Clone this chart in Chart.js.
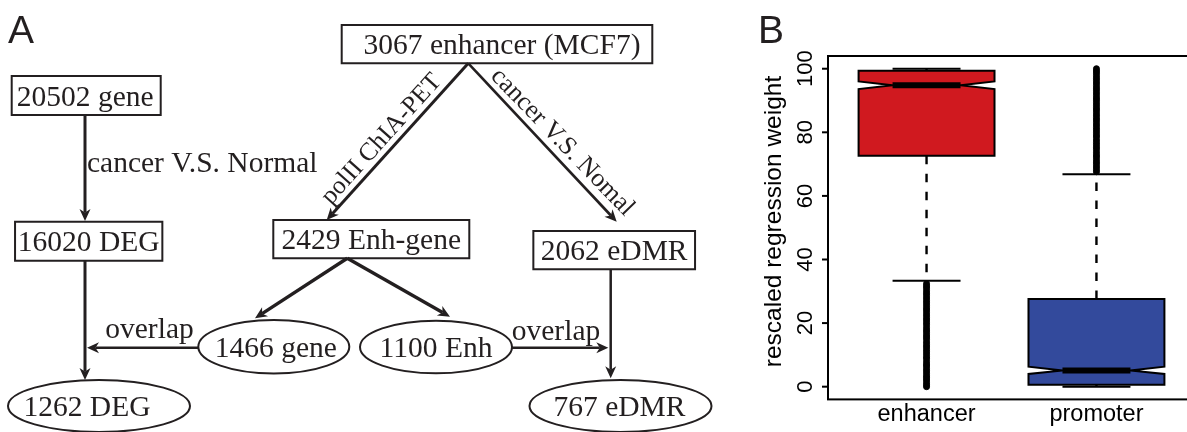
<!DOCTYPE html>
<html>
<head>
<meta charset="utf-8">
<script src="https://cdn.jsdelivr.net/npm/chart.js@4/dist/chart.umd.min.js"></script>
<style>
  html, body { margin: 0; padding: 0; background: #fff; overflow: hidden; }
  #wrap { position: relative; width: 1187px; height: 432px; overflow: hidden; background: #fff; }
  canvas { position: absolute; top: 0; }
  #flow { left: 0; }
  #box { left: 750px; }
</style>
</head>
<body>
<div id="wrap">
  <canvas id="flow" width="750" height="432"></canvas>
  <canvas id="box" width="460" height="432"></canvas>
</div>
<script>
// ---------- Panel A: filtering pipeline ----------
const nodeCounts = [20502, 16020, 1262, 3067, 2429, 2062, 1466, 1100, 767];
const nodeNames  = ['gene', 'DEG', 'DEG', 'enhancer (MCF7)', 'Enh-gene', 'eDMR', 'gene', 'Enh', 'eDMR'];
const edgeLabels = ['cancer V.S. Normal', 'polII ChIA-PET', 'cancer V.S. Nomal', 'overlap', 'overlap'];

// ---------- Panel B: rescaled regression weight ----------
const groups      = ['enhancer', 'promoter'];
const boxQ1       = [72.6, 0.6];
const boxMedian   = [94.8, 5.1];
const boxQ3       = [99.4, 27.6];
const notchLow    = [93.6, 4.0];
const notchHigh   = [96.0, 6.3];
const whiskerLow  = [33.3, 0.0];
const whiskerHigh = [100.0, 66.8];
const enhancerOutliers = [0.0, 0.6, 1.3, 2.1, 2.8, 3.4, 4.2, 5.0, 5.7, 6.5, 7.1, 7.9, 8.8, 9.4, 10.2, 11.0,
  11.7, 12.5, 13.2, 14.0, 14.9, 15.6, 16.3, 17.1, 17.8, 18.6, 19.5, 20.2, 21.0, 21.7, 22.5, 23.3, 24.1,
  24.8, 25.6, 26.4, 27.1, 27.9, 28.7, 29.4, 30.2, 31.0, 31.7, 32.4];
const promoterOutliers = [67.6, 68.3, 69.1, 69.9, 70.6, 71.4, 72.2, 72.9, 73.7, 74.6, 75.3, 76.1, 76.8,
  77.6, 78.5, 79.2, 80.0, 80.8, 81.5, 82.3, 83.1, 83.9, 84.6, 85.4, 86.2, 87.0, 87.7, 88.5, 89.3, 90.1,
  90.8, 91.6, 92.4, 93.2, 93.9, 94.7, 95.5, 96.3, 97.0, 97.8, 98.6, 99.3, 100.0];
const yTicks = [0, 20, 40, 60, 80, 100];

// ---------- layout of the diagram (scale units) ----------
const nodeLayout = [
  { cx: 86.2,  cy: 95.5,  w: 149,   h: 39,   shape: 'rect',    dx: -1 },
  { cx: 88.7,  cy: 241.2, w: 147.3, h: 39,   shape: 'rect',    dx: 0 },
  { cx: 99,    cy: 406,   w: 182,   h: 52,   shape: 'ellipse', dx: -12 },
  { cx: 497,   cy: 44.2,  w: 310.6, h: 38.3, shape: 'rect',    dx: 5 },
  { cx: 371.3, cy: 239.2, w: 196,   h: 38.3, shape: 'rect',    dx: 0 },
  { cx: 614.2, cy: 250.2, w: 161.7, h: 38.3, shape: 'rect',    dx: 0 },
  { cx: 273.8, cy: 346.7, w: 151,   h: 53.4, shape: 'ellipse', dx: 2 },
  { cx: 436,   cy: 347,   w: 152,   h: 52.6, shape: 'ellipse', dx: 0 },
  { cx: 620.5, cy: 406,   w: 182,   h: 52,   shape: 'ellipse', dx: -1 }
];
const arrowLayout = [
  { x1: 85,    y1: 115,   x2: 85,    y2: 221,   lw: 3 },
  { x1: 85,    y1: 260.7, x2: 85,    y2: 380,   lw: 3 },
  { x1: 198,   y1: 347.7, x2: 87,    y2: 347.7, lw: 2.5 },
  { x1: 468.3, y1: 63.3,  x2: 326.7, y2: 220,   lw: 3 },
  { x1: 468.3, y1: 63.3,  x2: 616.7, y2: 221.7, lw: 2.6 },
  { x1: 347.3, y1: 258.3, x2: 255,   y2: 318.3, lw: 3.4 },
  { x1: 347.3, y1: 258.3, x2: 450,   y2: 316.7, lw: 3.4 },
  { x1: 512,   y1: 347.7, x2: 608.3, y2: 347.7, lw: 2.5 },
  { x1: 610.7, y1: 269.3, x2: 610.7, y2: 378.3, lw: 2.5 }
];
const labelLayout = [
  { x: 87,    y: 171.5, angle: 0,   size: 29.5, align: 'left',   base: 'alphabetic' },
  { x: 381.7, y: 139.2, angle: -48, size: 25.5, align: 'center', base: 'middle' },
  { x: 562.3, y: 142.3, angle: 46,  size: 26,   align: 'center', base: 'middle' },
  { x: 149.5, y: 338,   angle: 0,   size: 29.5, align: 'center', base: 'alphabetic' },
  { x: 556,   y: 340,   angle: 0,   size: 29.5, align: 'center', base: 'alphabetic' }
];

const INK = '#231f20';
const SERIF = '"Liberation Serif", "Times New Roman", serif';
const SANS = '"Liberation Sans", Arial, sans-serif';

function drawArrow(ctx, x1, y1, x2, y2, lw) {
  const a = Math.atan2(y2 - y1, x2 - x1);
  const ux = Math.cos(a), uy = Math.sin(a), nx = -uy, ny = ux;
  const L = 12, W = 5.5, notch = 8.5;
  ctx.lineWidth = lw;
  ctx.beginPath();
  ctx.moveTo(x1, y1);
  ctx.lineTo(x2 - ux * notch, y2 - uy * notch);
  ctx.stroke();
  const bx = x2 - ux * L, by = y2 - uy * L;
  ctx.beginPath();
  ctx.moveTo(x2, y2);
  ctx.lineTo(bx + nx * W, by + ny * W);
  ctx.lineTo(x2 - ux * notch, y2 - uy * notch);
  ctx.lineTo(bx - nx * W, by - ny * W);
  ctx.closePath();
  ctx.fill();
}

const flowPlugin = {
  id: 'flowDiagram',
  afterDraw(chart) {
    const { ctx, scales: { x, y } } = chart;
    const px = v => x.getPixelForValue(v);
    const py = v => y.getPixelForValue(v);
    ctx.save();
    ctx.strokeStyle = INK;
    ctx.fillStyle = INK;

    // panel letter
    ctx.font = '39px ' + SANS;
    ctx.textAlign = 'left';
    ctx.textBaseline = 'alphabetic';
    ctx.fillText('A', 8, 43);

    // boxes and ellipses with their counts
    nodeLayout.forEach((n, i) => {
      const cx = px(n.cx), cy = py(n.cy);
      const hw = Math.abs(px(n.cx + n.w / 2) - cx);
      const hh = Math.abs(py(n.cy + n.h / 2) - cy);
      ctx.lineWidth = 2;
      ctx.beginPath();
      if (n.shape === 'rect') ctx.rect(cx - hw, cy - hh, 2 * hw, 2 * hh);
      else ctx.ellipse(cx, cy, hw, hh, 0, 0, Math.PI * 2);
      ctx.stroke();
      ctx.font = '29.5px ' + SERIF;
      ctx.textAlign = 'center';
      ctx.textBaseline = 'alphabetic';
      ctx.fillText(nodeCounts[i] + ' ' + nodeNames[i], cx + n.dx, cy + 10);
    });

    // arrows
    arrowLayout.forEach(a => drawArrow(ctx, px(a.x1), py(a.y1), px(a.x2), py(a.y2), a.lw));

    // edge labels
    labelLayout.forEach((l, i) => {
      ctx.save();
      ctx.translate(px(l.x), py(l.y));
      ctx.rotate(l.angle * Math.PI / 180);
      ctx.font = l.size + 'px ' + SERIF;
      ctx.textAlign = l.align;
      ctx.textBaseline = l.base;
      ctx.fillText(edgeLabels[i], 0, 0);
      ctx.restore();
    });
    ctx.restore();
  }
};

new Chart(document.getElementById('flow'), {
  type: 'scatter',
  data: { datasets: [{ data: nodeLayout.map(n => ({ x: n.cx, y: n.cy })), pointRadius: 0 }] },
  options: {
    responsive: false, animation: false, devicePixelRatio: 1,
    layout: { padding: 0 },
    plugins: { legend: { display: false }, tooltip: { enabled: false } },
    scales: {
      x: { type: 'linear', min: 0, max: 750, display: false },
      y: { type: 'linear', min: 0, max: 432, reverse: true, display: false }
    }
  },
  plugins: [flowPlugin]
});

// ---------- Panel B ----------
const boxFills = ['#d0191f', '#334a9c'];

const boxPlugin = {
  id: 'notchedBoxes',
  beforeDatasetsDraw(chart) {
    const { ctx, scales: { x, y } } = chart;
    ctx.save();
    ctx.strokeStyle = '#000';
    groups.forEach((g, i) => {
      const cx = x.getPixelForValue(i + 1);
      const hw = x.getPixelForValue(i + 1 + 0.4) - cx;
      const yq1 = y.getPixelForValue(boxQ1[i]), yq3 = y.getPixelForValue(boxQ3[i]);
      const ym = y.getPixelForValue(boxMedian[i]);
      const ynl = y.getPixelForValue(notchLow[i]), ynh = y.getPixelForValue(notchHigh[i]);
      const ywl = y.getPixelForValue(whiskerLow[i]), ywh = y.getPixelForValue(whiskerHigh[i]);

      // whiskers
      ctx.lineWidth = 2.4;
      ctx.setLineDash([8.5, 9.5]);
      ctx.beginPath();
      ctx.moveTo(cx, yq3); ctx.lineTo(cx, ywh);
      ctx.moveTo(cx, yq1); ctx.lineTo(cx, ywl);
      ctx.stroke();
      ctx.setLineDash([]);
      ctx.lineWidth = 2;
      ctx.beginPath();
      ctx.moveTo(cx - hw / 2, ywh); ctx.lineTo(cx + hw / 2, ywh);
      ctx.moveTo(cx - hw / 2, ywl); ctx.lineTo(cx + hw / 2, ywl);
      ctx.stroke();

      // notched box
      ctx.beginPath();
      ctx.moveTo(cx - hw, yq1);
      ctx.lineTo(cx + hw, yq1);
      ctx.lineTo(cx + hw, ynl);
      ctx.lineTo(cx + hw / 2, ym);
      ctx.lineTo(cx + hw, ynh);
      ctx.lineTo(cx + hw, yq3);
      ctx.lineTo(cx - hw, yq3);
      ctx.lineTo(cx - hw, ynh);
      ctx.lineTo(cx - hw / 2, ym);
      ctx.lineTo(cx - hw, ynl);
      ctx.closePath();
      ctx.fillStyle = boxFills[i];
      ctx.fill();
      ctx.lineWidth = 2;
      ctx.stroke();

      // median
      ctx.lineWidth = 6;
      ctx.beginPath();
      ctx.moveTo(cx - hw / 2, ym); ctx.lineTo(cx + hw / 2, ym);
      ctx.stroke();
    });
    ctx.restore();
  },
  afterDraw(chart) {
    const { ctx, chartArea: ca, scales: { x, y } } = chart;
    ctx.save();
    ctx.strokeStyle = '#000';
    ctx.fillStyle = '#000';
    ctx.lineWidth = 2;
    ctx.strokeRect(ca.left, ca.top, ca.right - ca.left, ca.bottom - ca.top);

    // y ticks and rotated tick labels
    ctx.font = '22px ' + SANS;
    ctx.textAlign = 'center';
    ctx.textBaseline = 'alphabetic';
    yTicks.forEach(t => {
      const ty = y.getPixelForValue(t);
      ctx.beginPath();
      ctx.moveTo(ca.left - 6, ty); ctx.lineTo(ca.left, ty);
      ctx.stroke();
      ctx.save();
      ctx.translate(ca.left - 16, ty);
      ctx.rotate(-Math.PI / 2);
      ctx.fillText(String(t), 0, 0);
      ctx.restore();
    });

    // axis title
    ctx.save();
    ctx.font = '24.5px ' + SANS;
    ctx.translate(ca.left - 47.5, 221.5);
    ctx.rotate(-Math.PI / 2);
    ctx.fillText('rescaled regression weight', 0, 0);
    ctx.restore();

    // category labels
    ctx.font = '23.5px ' + SANS;
    groups.forEach((g, i) => {
      ctx.fillText(g, x.getPixelForValue(i + 1), 420.5);
    });

    // panel letter
    ctx.font = '39px ' + SANS;
    ctx.textAlign = 'left';
    ctx.fillStyle = INK;
    ctx.fillText('B', 8, 43);
    ctx.restore();
  }
};

new Chart(document.getElementById('box'), {
  type: 'scatter',
  data: {
    datasets: [
      { data: enhancerOutliers.map(v => ({ x: 1, y: v })) },
      { data: promoterOutliers.map(v => ({ x: 2, y: v })) }
    ].map(d => Object.assign(d, {
      pointRadius: 3, pointBackgroundColor: '#000', pointBorderColor: '#000', pointBorderWidth: 1
    }))
  },
  options: {
    responsive: false, animation: false, devicePixelRatio: 1,
    layout: { padding: { left: 78, top: 56, right: 15, bottom: 32.6 } },
    plugins: { legend: { display: false }, tooltip: { enabled: false } },
    scales: {
      x: { type: 'linear', min: 0.42, max: 2.58, display: false },
      y: { type: 'linear', min: -4, max: 104, display: false }
    }
  },
  plugins: [boxPlugin]
});
</script>
</body>
</html>
